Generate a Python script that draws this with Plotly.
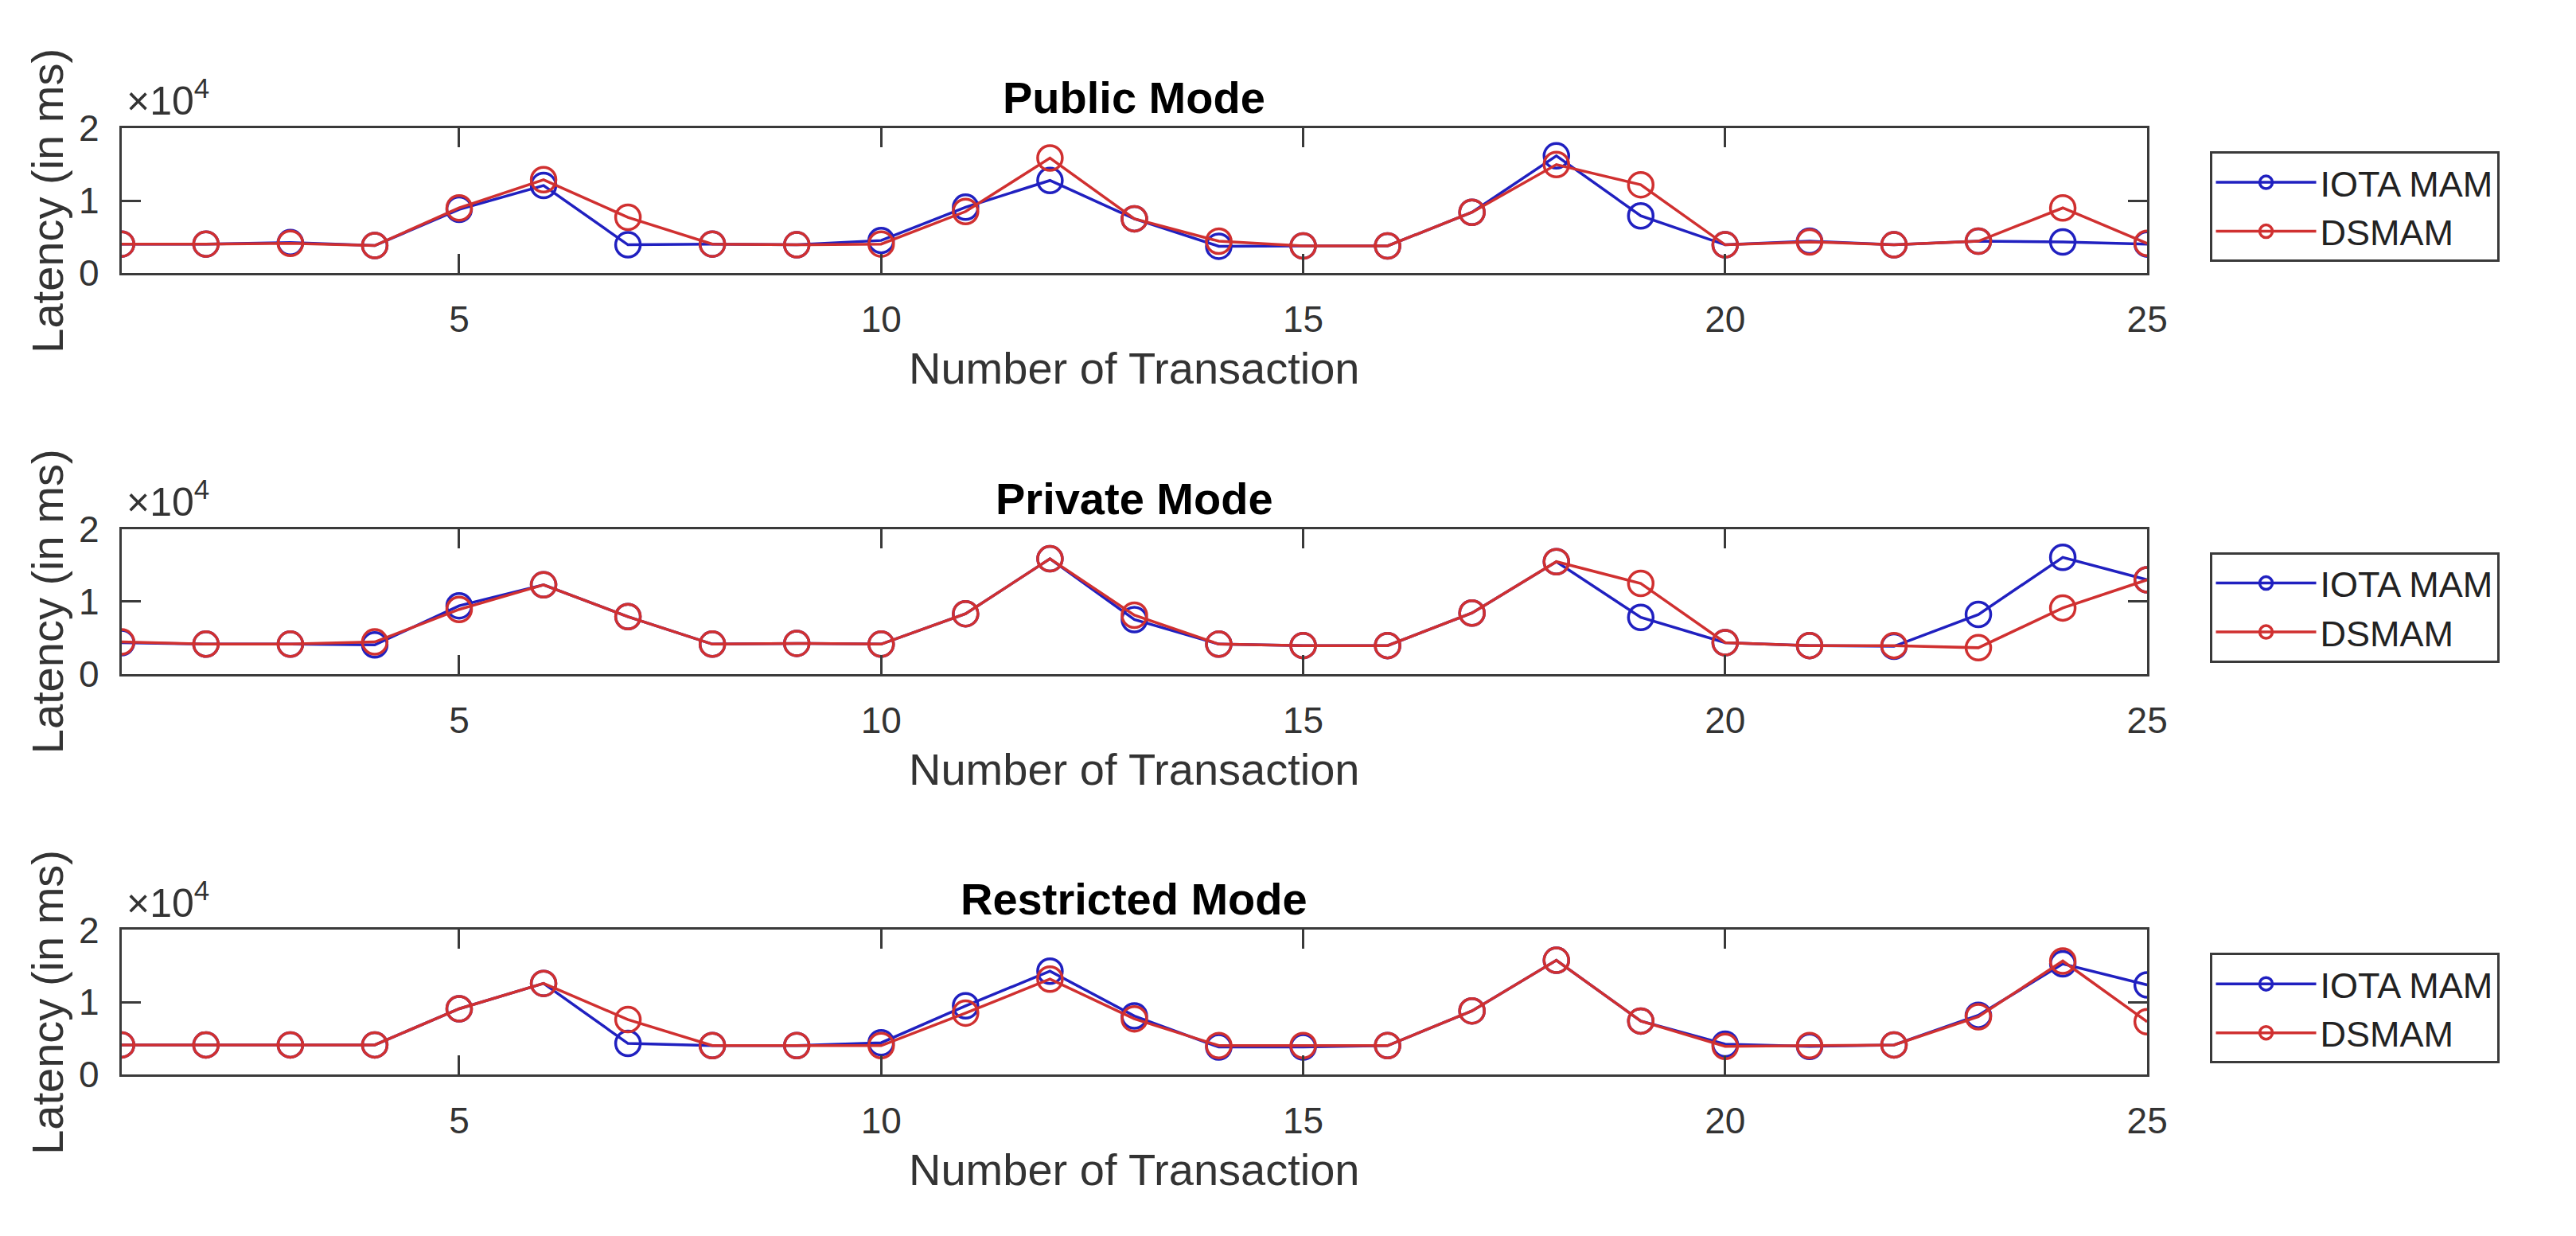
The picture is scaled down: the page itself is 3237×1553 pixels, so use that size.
import plotly.graph_objects as go

# ---------------- data ----------------
transactions = list(range(1, 26))

public_iota = [4000, 4000, 4200, 3800, 8800, 12100, 3900, 4000, 3900, 4500,
               9100, 12800, 7500, 3700, 3750, 3750, 8400, 16200, 7900, 3900,
               4400, 3900, 4400, 4300, 4000]
public_dsmam = [4000, 4000, 4100, 3800, 9000, 12900, 7700, 4000, 3900, 4000,
                8500, 15900, 7500, 4400, 3750, 3750, 8400, 15000, 12200, 3900,
                4300, 3900, 4400, 9000, 4100]

private_iota = [4300, 4100, 4100, 4000, 9400, 12300, 7900, 4100, 4200, 4100,
                8300, 15900, 7500, 4100, 3900, 3900, 8400, 15500, 7800, 4300,
                3900, 3800, 8200, 16100, 13000]
private_dsmam = [4400, 4100, 4100, 4400, 8900, 12300, 7900, 4100, 4200, 4100,
                 8300, 15900, 8100, 4100, 3900, 3900, 8400, 15500, 12500, 4300,
                 3900, 3900, 3600, 9100, 13000]

restricted_iota = [4100, 4100, 4100, 4100, 9100, 12600, 4300, 4000, 4000, 4400,
                   9500, 14300, 8100, 3800, 3800, 4000, 8800, 15800, 7400, 4200,
                   3900, 4100, 8200, 15300, 12400]
restricted_dsmam = [4100, 4100, 4100, 4100, 9100, 12600, 7600, 4000, 4000, 4000,
                    8500, 13200, 7700, 4000, 4000, 4000, 8800, 15800, 7400, 3900,
                    4000, 4100, 8000, 15700, 7300]

panel_titles = ["Public Mode", "Private Mode", "Restricted Mode"]
series_names = ["IOTA MAM", "DSMAM"]
x_tick_vals = [5, 10, 15, 20, 25]
y_tick_vals = [0, 10000, 20000]
y_tick_text = ["0", "1", "2"]
x_label = "Number of Transaction"
y_label = "Latency (in ms)"
exp_label = "\u00d710<sup>4</sup>"

panels = [
    (public_iota, public_dsmam),
    (private_iota, private_dsmam),
    (restricted_iota, restricted_dsmam),
]

# ---------------- layout geometry (pixels of a 3237 x 1553 canvas) ----------------
W, H = 3237, 1553
x_left, x_right = 154, 2720
panel_tops = [140, 661, 1182]
panel_h = 188

BLUE = "#2020c0"
RED = "#d03030"
AX = "#3a3a3a"
TXT = "#333333"
FONT = "Liberation Sans, Arial, Helvetica, sans-serif"

fig = go.Figure()
legend_ids = ["legend", "legend2", "legend3"]

for i, (iota, dsmam) in enumerate(panels):
    xa = "x" if i == 0 else f"x{i+1}"
    ya = "y" if i == 0 else f"y{i+1}"
    for name, vals, col in [(series_names[0], iota, BLUE), (series_names[1], dsmam, RED)]:
        fig.add_trace(go.Scatter(
            x=transactions, y=vals, name=name, mode="lines+markers",
            xaxis=xa, yaxis=ya, legend=legend_ids[i],
            line=dict(color=col, width=3.5),
            marker=dict(symbol="circle-open", size=31, color=col, line=dict(width=3.5, color=col)),
        ))

layout = dict(
    width=W, height=H, autosize=False,
    margin=dict(l=0, r=0, t=0, b=0, pad=0),
    paper_bgcolor="white", plot_bgcolor="white",
    font=dict(family=FONT, color=TXT, size=46),
    annotations=[],
)

for i in range(3):
    top = panel_tops[i]
    bot = top + panel_h
    ydom = [1 - bot / H, 1 - top / H]
    xkey = "xaxis" if i == 0 else f"xaxis{i+1}"
    ykey = "yaxis" if i == 0 else f"yaxis{i+1}"
    xa = "x" if i == 0 else f"x{i+1}"
    ya = "y" if i == 0 else f"y{i+1}"
    layout[xkey] = dict(
        domain=[x_left / W, x_right / W], anchor=ya, range=[1, 25],
        tickvals=x_tick_vals, ticks="inside", ticklen=24, tickwidth=2.5, tickcolor=AX,
        showline=True, linecolor=AX, linewidth=3, mirror="ticks",
        showgrid=False, zeroline=False,
        tickfont=dict(size=46, color=TXT, family=FONT), ticklabelstandoff=16,
    )
    layout[ykey] = dict(
        domain=ydom, anchor=xa, range=[0, 20000],
        tickvals=y_tick_vals, ticktext=y_tick_text,
        ticks="inside", ticklen=24, tickwidth=2.5, tickcolor=AX,
        showline=True, linecolor=AX, linewidth=3, mirror="ticks",
        showgrid=False, zeroline=False,
        tickfont=dict(size=46, color=TXT, family=FONT), ticklabelstandoff=16,
    )
    # panel title
    layout["annotations"].append(dict(
        text=panel_titles[i], xref="paper", yref="paper",
        x=(x_left + x_right) / 2 / W, y=1 - (top - 40) / H,
        xanchor="center", yanchor="middle", showarrow=False,
        font=dict(size=56, color="black", family=FONT, weight="bold"),
    ))
    # x-axis label
    layout["annotations"].append(dict(
        text=x_label, xref="paper", yref="paper",
        x=(x_left + x_right) / 2 / W, y=1 - (top + 312) / H,
        xanchor="center", yanchor="middle", showarrow=False,
        font=dict(size=56, color=TXT, family=FONT),
    ))
    # y-axis label
    layout["annotations"].append(dict(
        text=y_label, xref="paper", yref="paper", textangle=-90,
        x=60 / W, y=1 - (top + panel_h / 2) / H,
        xanchor="center", yanchor="middle", showarrow=False,
        font=dict(size=56, color=TXT, family=FONT),
    ))
    # exponent label
    layout["annotations"].append(dict(
        text=exp_label, xref="paper", yref="paper",
        x=(x_left + 4) / W, y=1 - (top - 4) / H,
        xanchor="left", yanchor="bottom", showarrow=False,
        font=dict(size=50, color=TXT, family=FONT),
    ))
    # legend
    lkey = legend_ids[i]
    layout[lkey] = dict(
        x=2799 / W, y=1 - (top + 30) / H, xanchor="left", yanchor="top",
        bgcolor="white", bordercolor=AX, borderwidth=3,
        font=dict(size=45, color="#222222", family=FONT),
        itemwidth=126, tracegroupgap=0,
    )

fig.update_layout(**layout)
fig.write_html(
    "out.html",
    config={"displayModeBar": False},
    post_script="document.body.style.margin='0';document.body.style.overflow='hidden';",
)
